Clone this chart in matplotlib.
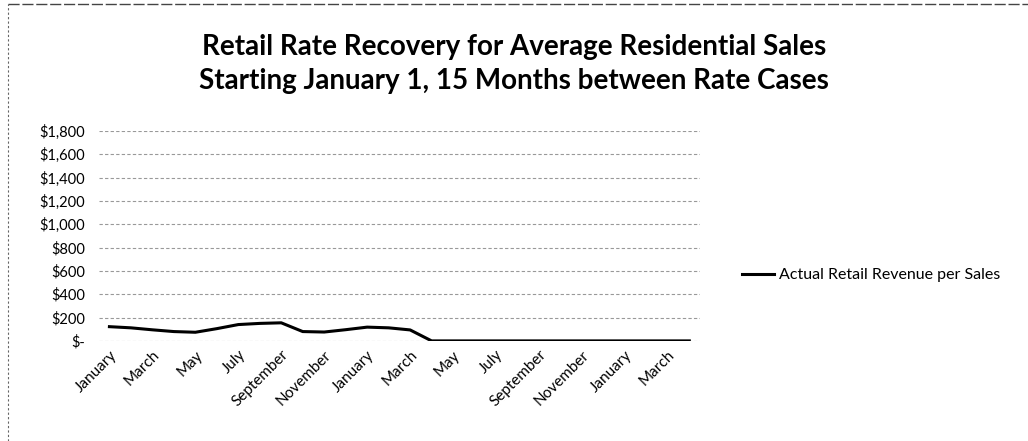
import matplotlib
matplotlib.use("Agg")
import matplotlib.pyplot as plt
from matplotlib.lines import Line2D
from matplotlib.ticker import FuncFormatter
import numpy as np

plt.rcParams['font.family'] = ['Lato', 'DejaVu Sans']

# monthly data, January of year 1 through April of year 3
months = ["January", "February", "March", "April", "May", "June", "July",
          "August", "September", "October", "November", "December"]
month_labels = (months * 3)[:28]
revenue = [122, 112, 95, 80, 74, 105, 140, 150, 155, 80, 76, 96,
           118, 112, 94, 0, 0, 0, 0, 0, 0, 0, 0, 0, 0, 0, 0, 0]
series_name = "Actual Retail Revenue per Sales"
title = ("Retail Rate Recovery for Average Residential Sales\n"
         "Starting January 1, 15 Months between Rate Cases")
y_ticks = list(range(0, 2000, 200))

fig = plt.figure(figsize=(10.28, 4.41), dpi=100)
ax = fig.add_axes([0.096, 0.227, 0.585, 0.476])

x = np.arange(len(revenue))
ax.plot(x, revenue, color="black", linewidth=2.2, label=series_name)

ax.set_xlim(-0.5, len(revenue) - 0.5)
ax.set_ylim(0, 1800)
ax.set_yticks(y_ticks)


def money(v, pos):
    if v == 0:
        return "$-"
    return "${:,.0f}".format(v)


ax.yaxis.set_major_formatter(FuncFormatter(money))
ax.set_xticks(x[::2])
ax.set_xticklabels(month_labels[::2], rotation=45, ha="right",
                   rotation_mode="anchor", fontsize=11)
ax.tick_params(axis="y", labelsize=10.5, length=0, pad=10)
ax.tick_params(axis="x", length=0, pad=5)

ax.grid(axis="y", color="#999999", linestyle=(0, (3, 2)), linewidth=0.8)
ax.set_axisbelow(True)
for s in ax.spines.values():
    s.set_visible(False)

fig.text(0.5, 0.855, title, ha="center", va="center", fontsize=20,
         fontweight="bold", linespacing=1.35)

ax.legend(loc="center left", bbox_to_anchor=(0.708, 0.376),
          bbox_transform=fig.transFigure, frameon=False, fontsize=11.5,
          handlelength=2.0, handletextpad=0.3)

# dashed chart border (only left and top show in the scan)
fig.add_artist(Line2D([0.008, 0.008], [0.0, 0.992], transform=fig.transFigure,
                      color="#666666", linestyle=(0, (2, 2)), linewidth=0.8))
fig.add_artist(Line2D([0.008, 1.0], [0.992, 0.992], transform=fig.transFigure,
                      color="#444444", linestyle=(0, (8, 2)), linewidth=1.0))

fig.savefig("out.png", dpi=100)
